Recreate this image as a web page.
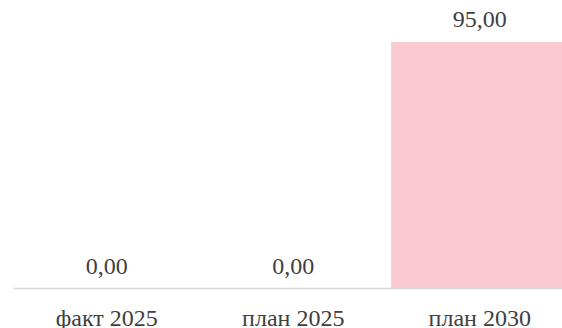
<!DOCTYPE html>
<html>
<head>
<meta charset="utf-8">
<script src="https://cdn.jsdelivr.net/npm/d3@7"></script>
<style>
  html, body { margin: 0; padding: 0; background: #fff; }
  svg { display: block; font-family: 'Times New Roman', 'Liberation Serif', serif; }
</style>
</head>
<body>
<script>
var categories = ['факт 2025', 'план 2025', 'план 2030'];
var values = [0, 0, 95];

var w = 562;
var h = 328;
var baseline = 288;

var svg = d3
  .select('body')
  .append('svg')
  .attr('width', w)
  .attr('height', h);

var xScale = d3
  .scaleBand()
  .domain(categories)
  .range([13.5, 573])
  .paddingInner(0.05)
  .paddingOuter(0.025);

var yScale = d3
  .scaleLinear()
  .domain([0, 100])
  .range([baseline, 29]);

var ruFormat = d3.formatLocale({
  decimal: ',',
  thousands: '\u00a0',
  grouping: [3],
  currency: ['', ' ₽']
}).format(',.2f');

var data = categories.map((c, i) => ({ cat: c, value: values[i] }));

svg
  .append('g')
  .selectAll('rect')
  .data(data)
  .enter()
  .append('rect')
  .attr('x', d => xScale(d.cat))
  .attr('y', d => yScale(d.value))
  .attr('width', xScale.bandwidth())
  .attr('height', d => yScale(0) - yScale(d.value))
  .attr('fill', '#fbc9d0');

// axis line
svg
  .append('line')
  .attr('x1', xScale.range()[0])
  .attr('x2', xScale.range()[1])
  .attr('y1', yScale(0) + 0.5)
  .attr('y2', yScale(0) + 0.5)
  .attr('stroke', '#d9d9d9')
  .attr('stroke-width', 1.5);

svg
  .append('g')
  .selectAll('text')
  .data(data)
  .enter()
  .append('text')
  .attr('x', d => xScale(d.cat) + xScale.bandwidth() / 2)
  .attr('y', d => yScale(d.value) - 14.5)
  .attr('text-anchor', 'middle')
  .attr('font-size', 24)
  .attr('fill', '#404040')
  .text(d => ruFormat(d.value));

svg
  .append('g')
  .selectAll('text')
  .data(categories)
  .enter()
  .append('text')
  .attr('x', d => xScale(d) + xScale.bandwidth() / 2)
  .attr('y', baseline + 38)
  .attr('text-anchor', 'middle')
  .attr('font-size', 24)
  .attr('fill', '#404040')
  .text(d => d);
</script>
</body>
</html>
